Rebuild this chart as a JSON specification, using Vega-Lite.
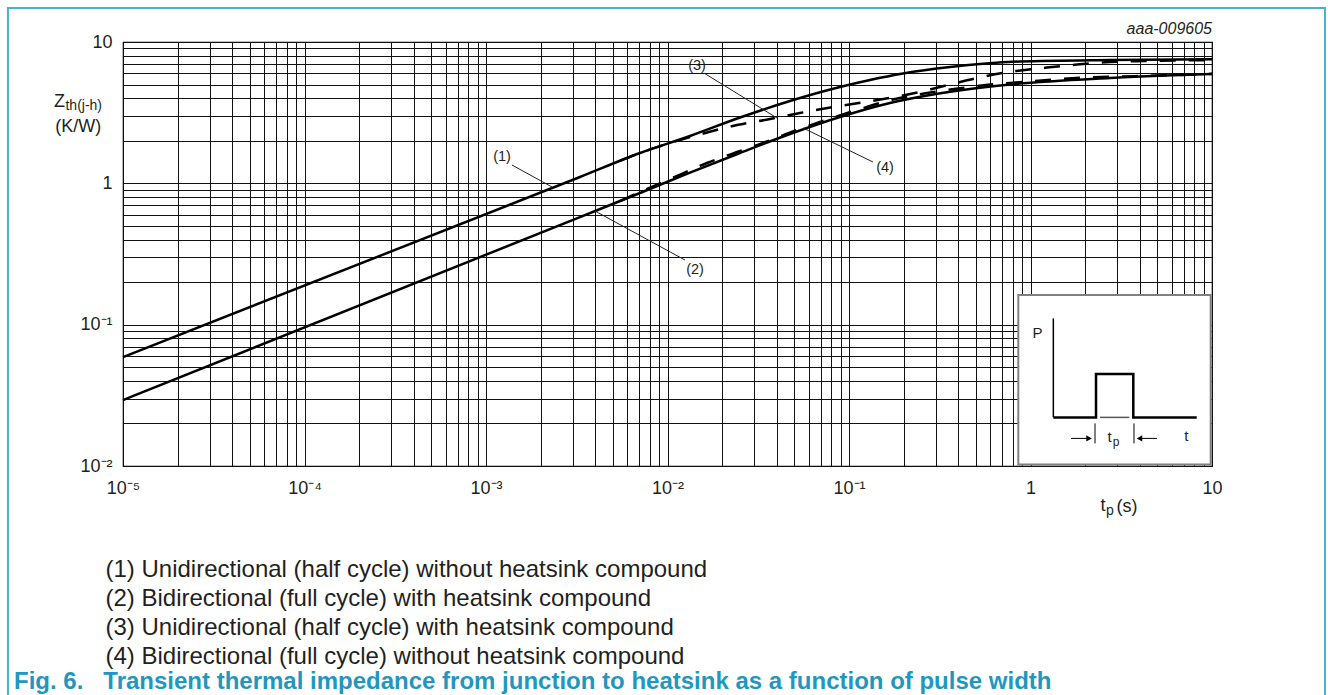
{
  "$schema": "https://vega.github.io/schema/vega-lite/v6.json",
  "width": 1089,
  "height": 424,
  "autosize": {"type": "none"},
  "padding": {"left": 123, "top": 42, "right": 116, "bottom": 229},
  "background": "white",
  "config": {
    "view": {"stroke": "#000", "strokeWidth": 1.2},
    "font": "Liberation Sans"
  },
  "datasets": {
    "curves": [
      {"curve": "1", "tp": 0.00001, "z": 0.059},
      {"curve": "1", "tp": 0.003295, "z": 1.108},
      {"curve": "1", "tp": 0.007056, "z": 1.639},
      {"curve": "1", "tp": 0.0133, "z": 2.162},
      {"curve": "1", "tp": 0.02508, "z": 2.922},
      {"curve": "1", "tp": 0.0473, "z": 3.824},
      {"curve": "1", "tp": 0.0892, "z": 4.803},
      {"curve": "1", "tp": 0.1305, "z": 5.384},
      {"curve": "1", "tp": 0.1984, "z": 5.985},
      {"curve": "1", "tp": 0.3601, "z": 6.654},
      {"curve": "1", "tp": 0.875, "z": 7.278},
      {"curve": "1", "tp": 2.742, "z": 7.457},
      {"curve": "1", "tp": 10, "z": 7.545},
      {"curve": "2", "tp": 0.00001, "z": 0.02926},
      {"curve": "2", "tp": 0.003295, "z": 0.5774},
      {"curve": "2", "tp": 0.007056, "z": 0.8538},
      {"curve": "2", "tp": 0.0133, "z": 1.192},
      {"curve": "2", "tp": 0.02508, "z": 1.639},
      {"curve": "2", "tp": 0.0473, "z": 2.233},
      {"curve": "2", "tp": 0.0892, "z": 2.946},
      {"curve": "2", "tp": 0.1682, "z": 3.701},
      {"curve": "2", "tp": 0.2795, "z": 4.216},
      {"curve": "2", "tp": 0.4642, "z": 4.65},
      {"curve": "2", "tp": 0.8215, "z": 5.044},
      {"curve": "2", "tp": 2.742, "z": 5.562},
      {"curve": "2", "tp": 10, "z": 5.934},
      {"curve": "3", "tp": 0.005473, "z": 1.44},
      {"curve": "3", "tp": 0.007056, "z": 1.639},
      {"curve": "3", "tp": 0.009093, "z": 1.83},
      {"curve": "3", "tp": 0.0151, "z": 2.22},
      {"curve": "3", "tp": 0.02415, "z": 2.586},
      {"curve": "3", "tp": 0.03671, "z": 2.852},
      {"curve": "3", "tp": 0.0537, "z": 3.145},
      {"curve": "3", "tp": 0.08162, "z": 3.467},
      {"curve": "3", "tp": 0.1225, "z": 3.762},
      {"curve": "3", "tp": 0.1725, "z": 4.048},
      {"curve": "3", "tp": 0.2461, "z": 4.428},
      {"curve": "3", "tp": 0.3601, "z": 5.003},
      {"curve": "3", "tp": 0.5404, "z": 5.653},
      {"curve": "3", "tp": 0.7909, "z": 6.183},
      {"curve": "3", "tp": 1.172, "z": 6.546},
      {"curve": "3", "tp": 1.804, "z": 6.931},
      {"curve": "3", "tp": 2.742, "z": 7.22},
      {"curve": "3", "tp": 4.167, "z": 7.337},
      {"curve": "3", "tp": 10, "z": 7.45},
      {"curve": "4", "tp": 0.005473, "z": 0.7494},
      {"curve": "4", "tp": 0.007056, "z": 0.8677},
      {"curve": "4", "tp": 0.010323, "z": 1.072},
      {"curve": "4", "tp": 0.0165, "z": 1.392},
      {"curve": "4", "tp": 0.02415, "z": 1.665},
      {"curve": "4", "tp": 0.03534, "z": 1.976},
      {"curve": "4", "tp": 0.0517, "z": 2.384},
      {"curve": "4", "tp": 0.07858, "z": 2.875},
      {"curve": "4", "tp": 0.1107, "z": 3.303},
      {"curve": "4", "tp": 0.1747, "z": 3.918},
      {"curve": "4", "tp": 0.269, "z": 4.357},
      {"curve": "4", "tp": 0.3987, "z": 4.688},
      {"curve": "4", "tp": 0.5982, "z": 5.003},
      {"curve": "4", "tp": 0.832, "z": 5.169},
      {"curve": "4", "tp": 1.33, "z": 5.428},
      {"curve": "4", "tp": 2.048, "z": 5.607},
      {"curve": "4", "tp": 3.112, "z": 5.699},
      {"curve": "4", "tp": 4.553, "z": 5.765},
      {"curve": "4", "tp": 10, "z": 5.95}
    ],
    "rules": [
      {"kind": "leader", "tp": 0.00139, "z": 1.348, "tp2": 0.00231, "z2": 0.942},
      {"kind": "leader", "tp": 0.003987, "z": 0.637, "tp2": 0.01248, "z2": 0.2866},
      {"kind": "leader", "tp": 0.01589, "z": 6.03, "tp2": 0.0401, "z2": 2.9},
      {"kind": "leader", "tp": 0.0558, "z": 2.463, "tp2": 0.1356, "z2": 1.415},
      {"kind": "axis", "tp": 1.336, "z": 0.1108, "tp2": 1.336, "z2": 0.02208},
      {"kind": "thin", "tp": 2.415, "z": 0.02208, "tp2": 3.502, "z2": 0.02208},
      {"kind": "dim", "tp": 2.267, "z": 0.02002, "tp2": 2.267, "z2": 0.01445},
      {"kind": "dim", "tp": 3.717, "z": 0.02002, "tp2": 3.717, "z2": 0.01445},
      {"kind": "dim", "tp": 1.672, "z": 0.01568, "tp2": 2.127, "z2": 0.01568},
      {"kind": "dim", "tp": 3.963, "z": 0.01568, "tp2": 4.977, "z2": 0.01568}
    ],
    "arrows": [
      {"tp": 2.101, "z": 0.01568, "dir": "right"},
      {"tp": 3.987, "z": 0.01568, "dir": "left"}
    ],
    "pulse": [
      {"i": 0, "tp": 1.336, "z": 0.02208},
      {"i": 1, "tp": 2.296, "z": 0.02208},
      {"i": 2, "tp": 2.296, "z": 0.04471},
      {"i": 3, "tp": 3.685, "z": 0.04471},
      {"i": 4, "tp": 3.685, "z": 0.02208},
      {"i": 5, "tp": 8.238, "z": 0.02208}
    ],
    "box": [
      {"tp": 0.8565, "tp2": 9.836, "z": 0.162, "z2": 0.01026}
    ],
    "frame": [
      {"tp": 0.000002324, "tp2": 41.94, "z": 17.4, "z2": 0.000159}
    ],
    "ann": [
      {"kind": "curve", "label": "(1)", "tp": 0.001225, "z": 1.548},
      {"kind": "curve", "label": "(2)", "tp": 0.01419, "z": 0.2455},
      {"kind": "curve", "label": "(3)", "tp": 0.01454, "z": 6.76},
      {"kind": "curve", "label": "(4)", "tp": 0.158, "z": 1.283},
      {"kind": "code", "label": "aaa-009605", "tp": 10, "z": 12.3},
      {"kind": "big", "label": "Z", "tp": 0.000004168, "z": 3.78},
      {"kind": "sub", "label": "th(j-h)", "tp": 0.00000482, "z": 3.525},
      {"kind": "big", "label": "(K/W)", "tp": 0.000004232, "z": 2.502},
      {"kind": "big", "label": "t", "tp": 2.43, "z": 0.005202},
      {"kind": "sub", "label": "p", "tp": 2.606, "z": 0.004795},
      {"kind": "big", "label": "(s)", "tp": 2.977, "z": 0.005161},
      {"kind": "inset", "label": "P", "tp": 1.093, "z": 0.0872},
      {"kind": "inset", "label": "t", "tp": 2.724, "z": 0.01594},
      {"kind": "insetsub", "label": "p", "tp": 2.966, "z": 0.01469},
      {"kind": "inset", "label": "t", "tp": 7.209, "z": 0.01623},
      {"kind": "caption", "label": "Fig. 6.\u00a0\u00a0\u00a0Transient thermal impedance from junction to heatsink as a function of pulse width", "tp": 0.000002508, "z": 0.0002956}
    ]
  },
  "encoding": {
    "x": {
      "field": "tp", "type": "quantitative",
      "scale": {"type": "log", "domain": [0.00001, 10]},
      "axis": {
        "values": [0.00001, 0.00002, 0.00003, 0.00004, 0.00005, 0.00006, 0.00007, 0.00008, 0.00009,
                   0.0001, 0.0002, 0.0003, 0.0004, 0.0005, 0.0006, 0.0007, 0.0008, 0.0009,
                   0.001, 0.002, 0.003, 0.004, 0.005, 0.006, 0.007, 0.008, 0.009,
                   0.01, 0.02, 0.03, 0.04, 0.05, 0.06, 0.07, 0.08, 0.09,
                   0.1, 0.2, 0.3, 0.4, 0.5, 0.6, 0.7, 0.8, 0.9,
                   1, 2, 3, 4, 5, 6, 7, 8, 9, 10],
        "labelExpr": "datum.value == 0.00001 ? '10⁻⁵' : datum.value == 0.0001 ? '10⁻⁴' : datum.value == 0.001 ? '10⁻³' : datum.value == 0.01 ? '10⁻²' : datum.value == 0.1 ? '10⁻¹' : datum.value == 1 ? '1' : datum.value == 10 ? '10' : ''",
        "grid": true, "gridColor": "#111", "gridWidth": 1, "gridOpacity": 1,
        "ticks": false, "tickSize": 0, "domain": false,
        "labelFlush": false, "labelOverlap": false, "labelPadding": 13,
        "labelFontSize": 18, "labelColor": "#231f20", "labelFont": "Liberation Sans",
        "title": [
          "(1) Unidirectional (half cycle) without heatsink compound",
          "(2) Bidirectional (full cycle) with heatsink compound",
          "(3) Unidirectional (half cycle) with heatsink compound",
          "(4) Bidirectional (full cycle) without heatsink compound"
        ],
        "titleFont": "Liberation Sans", "titleFontSize": 24, "titleFontWeight": "normal",
        "titleColor": "#231f20", "titleAlign": "left", "titleBaseline": "alphabetic",
        "titleX": -18, "titleY": 110, "titleLineHeight": 29
      }
    },
    "y": {
      "field": "z", "type": "quantitative",
      "scale": {"type": "log", "domain": [0.01, 10]},
      "axis": {
        "values": [0.01, 0.02, 0.03, 0.04, 0.05, 0.06, 0.07, 0.08, 0.09,
                   0.1, 0.2, 0.3, 0.4, 0.5, 0.6, 0.7, 0.8, 0.9,
                   1, 2, 3, 4, 5, 6, 7, 8, 9, 10],
        "labelExpr": "datum.value == 0.01 ? '10⁻²' : datum.value == 0.1 ? '10⁻¹' : datum.value == 1 ? '1' : datum.value == 10 ? '10' : ''",
        "grid": true, "gridColor": "#111", "gridWidth": 1, "gridOpacity": 1,
        "ticks": false, "tickSize": 0, "domain": false,
        "labelFlush": false, "labelOverlap": false, "labelPadding": 11,
        "labelFontSize": 18, "labelColor": "#231f20", "labelFont": "Liberation Sans",
        "title": null
      }
    }
  },
  "layer": [
    {
      "data": {"name": "curves"},
      "transform": [{"filter": "datum.curve == '1' || datum.curve == '2'"}],
      "mark": {"type": "line", "stroke": "#000", "strokeWidth": 2.5, "interpolate": "monotone"},
      "encoding": {"detail": {"field": "curve"}}
    },
    {
      "data": {"name": "curves"},
      "transform": [{"filter": "datum.curve == '3' || datum.curve == '4'"}],
      "mark": {"type": "line", "stroke": "#000", "strokeWidth": 2.5, "strokeDash": [16, 13], "interpolate": "monotone"},
      "encoding": {"detail": {"field": "curve"}}
    },
    {
      "data": {"name": "rules"},
      "transform": [{"filter": "datum.kind == 'leader'"}],
      "mark": {"type": "rule", "stroke": "#222", "strokeWidth": 1, "clip": false},
      "encoding": {"x2": {"field": "tp2"}, "y2": {"field": "z2"}}
    },
    {
      "data": {"name": "box"},
      "mark": {"type": "rect", "fill": "#fff", "stroke": "#808080", "strokeWidth": 2},
      "encoding": {"x2": {"field": "tp2"}, "y2": {"field": "z2"}}
    },
    {
      "data": {"name": "rules"},
      "transform": [{"filter": "datum.kind == 'axis'"}],
      "mark": {"type": "rule", "stroke": "#000", "strokeWidth": 1.5},
      "encoding": {"x2": {"field": "tp2"}, "y2": {"field": "z2"}}
    },
    {
      "data": {"name": "rules"},
      "transform": [{"filter": "datum.kind == 'thin'"}],
      "mark": {"type": "rule", "stroke": "#555", "strokeWidth": 1.5},
      "encoding": {"x2": {"field": "tp2"}, "y2": {"field": "z2"}}
    },
    {
      "data": {"name": "rules"},
      "transform": [{"filter": "datum.kind == 'dim'"}],
      "mark": {"type": "rule", "stroke": "#000", "strokeWidth": 1},
      "encoding": {"x2": {"field": "tp2"}, "y2": {"field": "z2"}}
    },
    {
      "data": {"name": "pulse"},
      "mark": {"type": "line", "stroke": "#000", "strokeWidth": 2.5, "strokeJoin": "miter"},
      "encoding": {"order": {"field": "i"}}
    },
    {
      "data": {"name": "arrows"},
      "mark": {"type": "point", "filled": true, "fill": "#000", "size": 40, "opacity": 1},
      "encoding": {
        "shape": {"field": "dir", "type": "nominal", "scale": {"domain": ["right", "left"], "range": ["triangle-right", "triangle-left"]}, "legend": null}
      }
    },
    {
      "data": {"name": "ann"},
      "transform": [{"filter": "datum.kind == 'curve'"}],
      "mark": {"type": "text", "font": "Liberation Sans", "fontSize": 14.5, "fill": "#231f20", "align": "center", "baseline": "middle", "clip": false},
      "encoding": {"text": {"field": "label"}}
    },
    {
      "data": {"name": "ann"},
      "transform": [{"filter": "datum.kind == 'code'"}],
      "mark": {"type": "text", "font": "Liberation Sans", "fontSize": 16, "fontStyle": "italic", "fill": "#231f20", "align": "right", "baseline": "middle", "clip": false},
      "encoding": {"text": {"field": "label"}}
    },
    {
      "data": {"name": "ann"},
      "transform": [{"filter": "datum.kind == 'big'"}],
      "mark": {"type": "text", "font": "Liberation Sans", "fontSize": 18, "fill": "#231f20", "align": "left", "baseline": "middle", "clip": false},
      "encoding": {"text": {"field": "label"}}
    },
    {
      "data": {"name": "ann"},
      "transform": [{"filter": "datum.kind == 'sub'"}],
      "mark": {"type": "text", "font": "Liberation Sans", "fontSize": 14, "fill": "#231f20", "align": "left", "baseline": "middle", "clip": false},
      "encoding": {"text": {"field": "label"}}
    },
    {
      "data": {"name": "ann"},
      "transform": [{"filter": "datum.kind == 'inset'"}],
      "mark": {"type": "text", "font": "Liberation Sans", "fontSize": 15, "fill": "#231f20", "align": "center", "baseline": "middle", "clip": false},
      "encoding": {"text": {"field": "label"}}
    },
    {
      "data": {"name": "ann"},
      "transform": [{"filter": "datum.kind == 'insetsub'"}],
      "mark": {"type": "text", "font": "Liberation Sans", "fontSize": 12, "fill": "#231f20", "align": "center", "baseline": "middle", "clip": false},
      "encoding": {"text": {"field": "label"}}
    },
    {
      "data": {"name": "ann"},
      "transform": [{"filter": "datum.kind == 'caption'"}],
      "mark": {"type": "text", "font": "Liberation Sans", "fontSize": 24, "fontWeight": "bold", "fill": "#1f97bf", "align": "left", "baseline": "middle", "clip": false},
      "encoding": {"text": {"field": "label"}}
    },
    {
      "data": {"name": "frame"},
      "mark": {"type": "rect", "filled": false, "fill": null, "stroke": "#4bb3c8", "strokeWidth": 2, "clip": false},
      "encoding": {"x2": {"field": "tp2"}, "y2": {"field": "z2"}}
    }
  ]
}
